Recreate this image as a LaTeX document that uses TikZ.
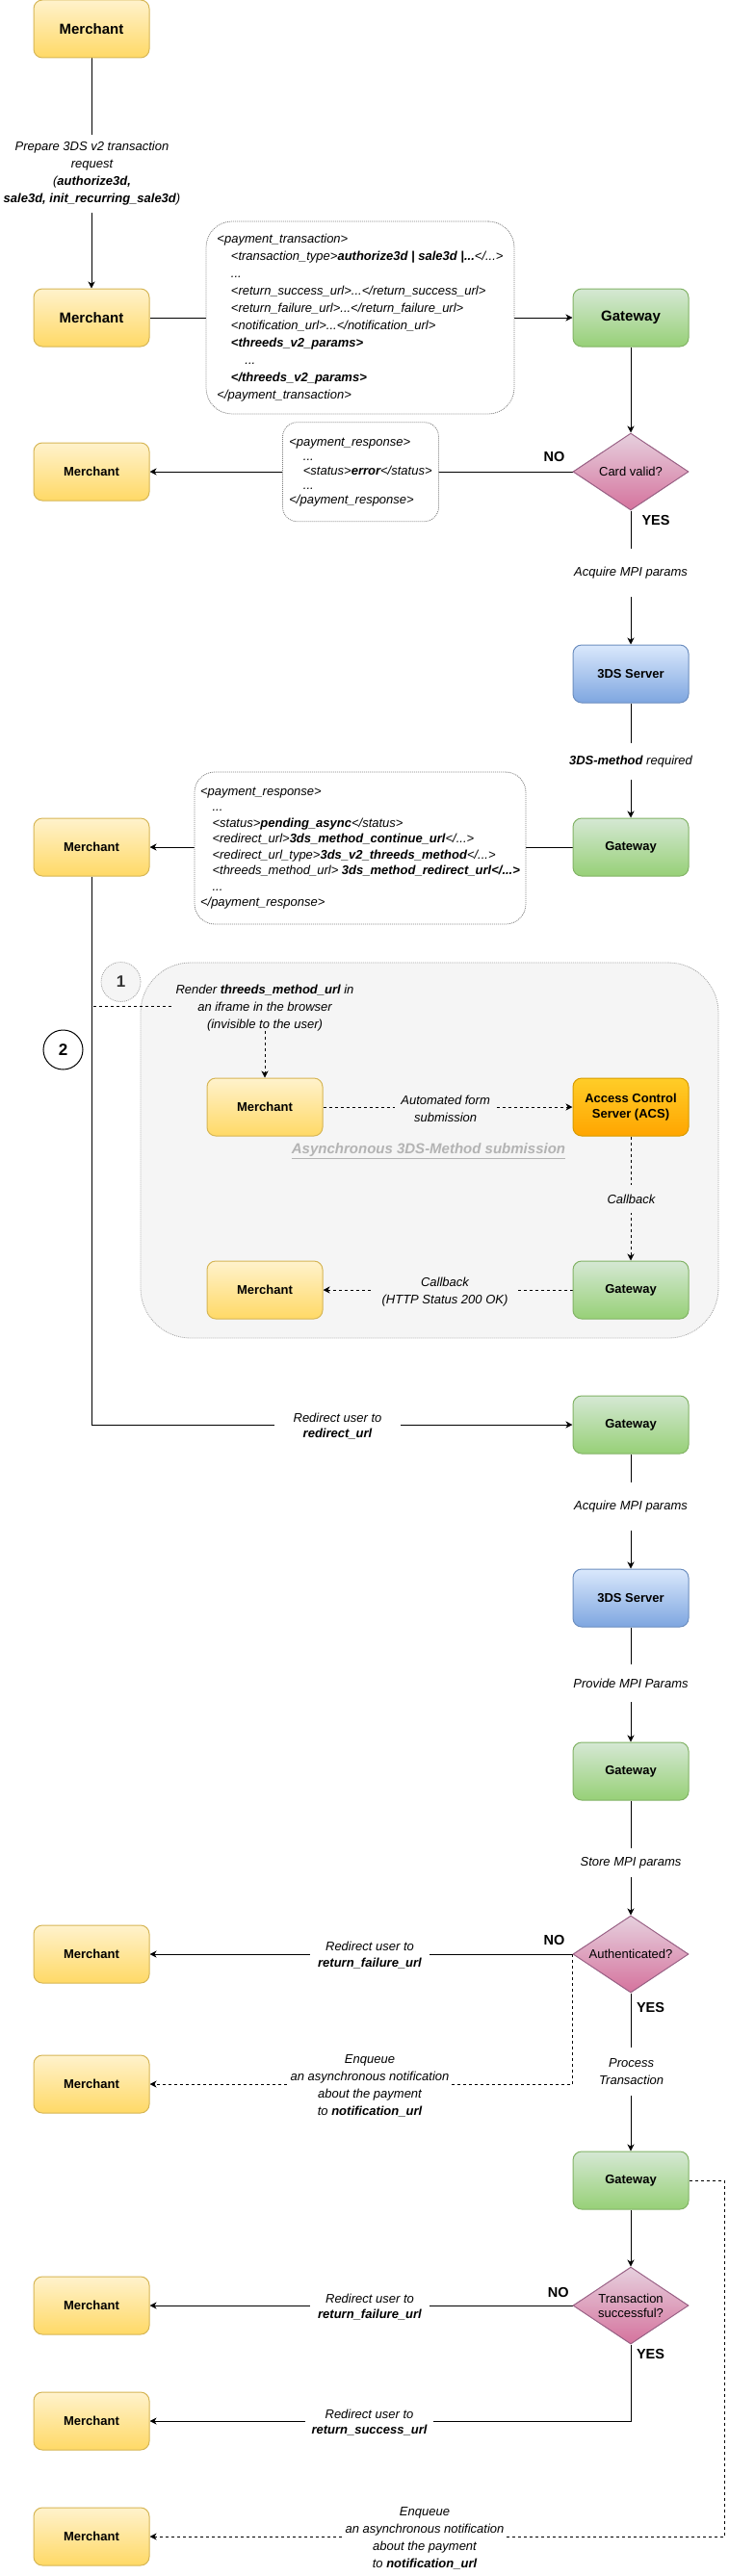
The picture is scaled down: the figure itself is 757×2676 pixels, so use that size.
\documentclass[tikz,border=0pt]{standalone}
\usepackage{fontspec}
\setmainfont{Liberation Sans}
\usetikzlibrary{shapes.geometric,arrows.meta}
\pgfdeclarelayer{back}
\pgfdeclarelayer{edges}
\pgfsetlayers{back,edges,main}
\definecolor{mTop}{HTML}{FFF2CC}\definecolor{mBot}{HTML}{FFD966}\definecolor{mLine}{HTML}{D6B656}
\definecolor{gTop}{HTML}{D5E8D4}\definecolor{gBot}{HTML}{97D077}\definecolor{gLine}{HTML}{82B366}
\definecolor{sTop}{HTML}{DAE8FC}\definecolor{sBot}{HTML}{7EA6E0}\definecolor{sLine}{HTML}{6C8EBF}
\definecolor{dTop}{HTML}{E6D0DE}\definecolor{dBot}{HTML}{D5739D}\definecolor{dLine}{HTML}{996185}
\definecolor{aTop}{HTML}{FFCD28}\definecolor{aBot}{HTML}{FFA500}\definecolor{aLine}{HTML}{D79B00}
\definecolor{cFill}{HTML}{F5F5F5}\definecolor{cLine}{HTML}{A6A6A6}
\definecolor{codeLine}{HTML}{808080}\definecolor{asyncCol}{HTML}{B3B3B3}
\definecolor{oneCol}{HTML}{333333}
\newcommand\myind{\hspace*{14.5pt}}
\newcommand\myindb{\hspace*{12.5pt}}
\begin{document}
\begin{tikzpicture}[x=1pt,y=-1pt,
  arr/.style={-{Stealth[length=7pt,width=7pt,inset=2pt]}, line width=1pt},
  dsh/.style={arr, dash pattern=on 3pt off 3pt},
  box/.style={rectangle, rounded corners=9pt, minimum width=120pt, minimum height=60pt,
    inner sep=0pt, line width=1pt, align=center, font=\fontsize{13}{15.5}\selectfont\bfseries},
  big/.style={font=\fontsize{15}{18}\selectfont\bfseries},
  merchant/.style={box, top color=mTop, bottom color=mBot, draw=mLine},
  gateway/.style={box, top color=gTop, bottom color=gBot, draw=gLine},
  server/.style={box, top color=sTop, bottom color=sBot, draw=sLine},
  acsbox/.style={box, top color=aTop, bottom color=aBot, draw=aLine},
  decision/.style={diamond, shape aspect=1.5, minimum width=120pt, minimum height=80pt,
    inner sep=0pt, line width=1pt, top color=dTop, bottom color=dBot, draw=dLine,
    align=center, font=\fontsize{13}{15}\selectfont},
  codebox/.style={rectangle, fill=white, draw=codeLine, line width=0.8pt,
    dash pattern=on 1pt off 1pt, align=left, inner sep=0pt},
  lab/.style={fill=white, inner sep=0pt, align=center, font=\fontsize{13}{18}\selectfont\itshape},
  labg/.style={lab, fill=cFill},
  yn/.style={font=\fontsize{14.5}{17}\selectfont\bfseries, inner sep=0pt}
]
\useasboundingbox (0,0) rectangle (757,2676);

% ---------- boxes ----------
\node[merchant, big] (m1) at (95,30) {Merchant};
\node[merchant, big] (m2) at (95,330) {Merchant};
\node[gateway, big] (g1) at (655,330) {Gateway};
\node[decision] (card) at (655,490) {Card valid?};
\node[merchant] (m3) at (95,490) {Merchant};
\node[server] (s1) at (655,700) {3DS Server};
\node[gateway] (g2) at (655,880) {Gateway};
\node[merchant] (m4) at (95,880) {Merchant};

\begin{pgfonlayer}{back}
\node[rectangle, rounded corners=52pt, fill=cFill, draw=cLine, line width=0.8pt,
  dash pattern=on 1pt off 1pt, minimum width=600pt, minimum height=390pt] (cont) at (446,1195) {};
\end{pgfonlayer}
\node[circle, minimum size=41pt, inner sep=0pt, fill=cFill, draw=cLine, line width=0.8pt,
  dash pattern=on 1pt off 1pt, text=oneCol, font=\fontsize{17}{20}\selectfont\bfseries] (c1) at (125.5,1020) {1};
\node[circle, minimum size=41pt, inner sep=0pt, fill=white, draw=black, line width=1pt,
  font=\fontsize{17}{20}\selectfont\bfseries] (c2) at (65.5,1090.5) {2};
\node[merchant] (ma) at (275,1150) {Merchant};
\node[acsbox] (acs) at (655,1150) {Access Control\\Server (ACS)};
\node[merchant] (mb) at (275,1340) {Merchant};
\node[gateway] (gb) at (655,1340) {Gateway};

\node[gateway] (g3) at (655,1480) {Gateway};
\node[server] (s2) at (655,1660) {3DS Server};
\node[gateway] (g4) at (655,1840) {Gateway};
\node[decision] (auth) at (655,2030) {Authenticated?};
\node[merchant] (m5) at (95,2030) {Merchant};
\node[merchant] (m6) at (95,2165) {Merchant};
\node[gateway] (g5) at (655,2265) {Gateway};
\node[decision] (txn) at (655,2395) {Transaction\\successful?};
\node[merchant] (m7) at (95,2395) {Merchant};
\node[merchant] (m8) at (95,2515) {Merchant};
\node[merchant] (m9) at (95,2635) {Merchant};

\coordinate (rstart) at (97,1045);
\coordinate (rc) at (752,2265);

% ---------- connectors ----------
\begin{pgfonlayer}{edges}
\draw[arr] (m1) -- (m2);
\draw[arr] (m2) -- (g1);
\draw[arr] (g1) -- (card);
\draw[arr] (card) -- (m3);
\draw[arr] (card) -- (s1);
\draw[arr] (s1) -- (g2);
\draw[arr] (g2) -- (m4);
\draw[arr] (m4.south) |- (g3.west);
\draw[dsh] (rstart) -| (ma.north);
\draw[dsh] (ma) -- (acs);
\draw[dsh] (acs) -- (gb);
\draw[dsh] (gb) -- (mb);
\draw[arr] (g3) -- (s2);
\draw[arr] (s2) -- (g4);
\draw[arr] (g4) -- (auth);
\draw[arr] (auth.west) -- (m5.east);
\draw[dsh] (auth.west) |- (m6.east);
\draw[arr] (auth) -- (g5);
\draw[arr] (g5) -- (txn);
\draw[arr] (txn.west) -- (m7.east);
\draw[arr] (txn.south) |- (m8.east);
\draw[dsh] (g5.east) -- (rc) |- (m9.east);
\end{pgfonlayer}

% ---------- message boxes ----------
\node[codebox, rounded corners=27pt, minimum width=320pt, minimum height=200pt,
  font=\fontsize{13}{18}\selectfont\itshape] (payload) at (374,330) {%
<payment\_transaction>\\
\myind<transaction\_type>\textbf{authorize3d | sale3d |...}</...>\\
\myind...\\
\myind<return\_success\_url>...</return\_success\_url>\\
\myind<return\_failure\_url>...</return\_failure\_url>\\
\myind<notification\_url>...</notification\_url>\\
\myind\textbf{<threeds\_v2\_params>}\\
\myind\myind...\\
\myind\textbf{</threeds\_v2\_params>}\\
</payment\_transaction>};

\node[codebox, rounded corners=15pt, minimum width=162pt, minimum height=103pt,
  font=\fontsize{13}{15}\selectfont\itshape] (resp1) at (374.5,490.2) {%
<payment\_response>\\
\myind...\\
\myind<status>\textbf{error}</status>\\
\myind...\\
</payment\_response>};

\node[codebox, rounded corners=21pt, minimum width=344pt, minimum height=158pt,
  font=\fontsize{13}{16.5}\selectfont\itshape] (resp2) at (374,881) {%
<payment\_response>\\
\myindb...\\
\myindb<status>\textbf{pending\_async}</status>\\
\myindb<redirect\_url>\textbf{3ds\_method\_continue\_url}</...>\\
\myindb<redirect\_url\_type>\textbf{3ds\_v2\_threeds\_method}</...>\\
\myindb<threeds\_method\_url> \textbf{3ds\_method\_redirect\_url</...>}\\
\myindb...\\
</payment\_response>};

% ---------- labels ----------
\node[lab, minimum height=80pt] (lprep) at (95.5,180.5) {Prepare 3DS v2 transaction\\request\\(\textbf{authorize3d,}\\\textbf{sale3d, init\_recurring\_sale3d})};
\node[yn] (no1) at (575.5,475) {NO};
\node[yn] (yes1) at (681,541) {YES};
\node[lab, minimum height=50pt] (lacq1) at (655,595) {Acquire MPI params};
\node[lab, minimum height=38pt] (lmeth) at (655,791) {\textbf{3DS-method} required};
\node[labg, inner xsep=3pt] (lrender) at (275,1047) {Render \textbf{threeds\_method\_url} in\\an iframe in the browser\\(invisible to the user)};
\node[labg, minimum width=106pt] (lauto) at (462.6,1151.5) {Automated form\\submission};
\node[inner sep=0pt, text=asyncCol, font=\fontsize{15}{18}\selectfont\bfseries\itshape] (lasync) at (445,1196) {\underline{Asynchronous 3DS-Method submission}};
\node[labg, minimum height=29pt] (lcb1) at (655.5,1245.5) {Callback};
\node[labg, minimum width=152pt] (lcb2) at (462,1341.7) {Callback\\(HTTP Status 200 OK)};
\node[lab, minimum width=131pt, font=\fontsize{13}{16.5}\selectfont\itshape] (lredir) at (350.5,1481.7) {Redirect user to\\\textbf{redirect\_url}};
\node[lab, minimum height=50pt] (lacq2) at (655,1565) {Acquire MPI params};
\node[lab, minimum height=39pt] (lprov) at (655,1748.5) {Provide MPI Params};
\node[lab, minimum height=30pt] (lstore) at (655,1935) {Store MPI params};
\node[yn] (no2) at (575.5,2015.7) {NO};
\node[lab, minimum width=124pt, font=\fontsize{13}{16.5}\selectfont\itshape] (lfail1) at (384,2031.3) {Redirect user to\\\textbf{return\_failure\_url}};
\node[lab, minimum width=170pt] (lenq1) at (384,2167) {Enqueue\\an asynchronous notification\\about the payment\\to \textbf{notification\_url}};
\node[yn] (yes2) at (675.5,2085.7) {YES};
\node[lab, minimum height=50pt] (lproc) at (655.7,2151.7) {Process\\Transaction};
\node[yn] (no3) at (579.7,2381) {NO};
\node[lab, minimum width=124pt, font=\fontsize{13}{16.5}\selectfont\itshape] (lfail2) at (384,2396.7) {Redirect user to\\\textbf{return\_failure\_url}};
\node[yn] (yes3) at (675.5,2445.7) {YES};
\node[lab, minimum width=133pt, font=\fontsize{13}{16.5}\selectfont\itshape] (lsucc) at (383.5,2516.7) {Redirect user to\\\textbf{return\_success\_url}};
\node[lab, minimum width=170pt] (lenq2) at (441,2637) {Enqueue\\an asynchronous notification\\about the payment\\to \textbf{notification\_url}};
\end{tikzpicture}
\end{document}
